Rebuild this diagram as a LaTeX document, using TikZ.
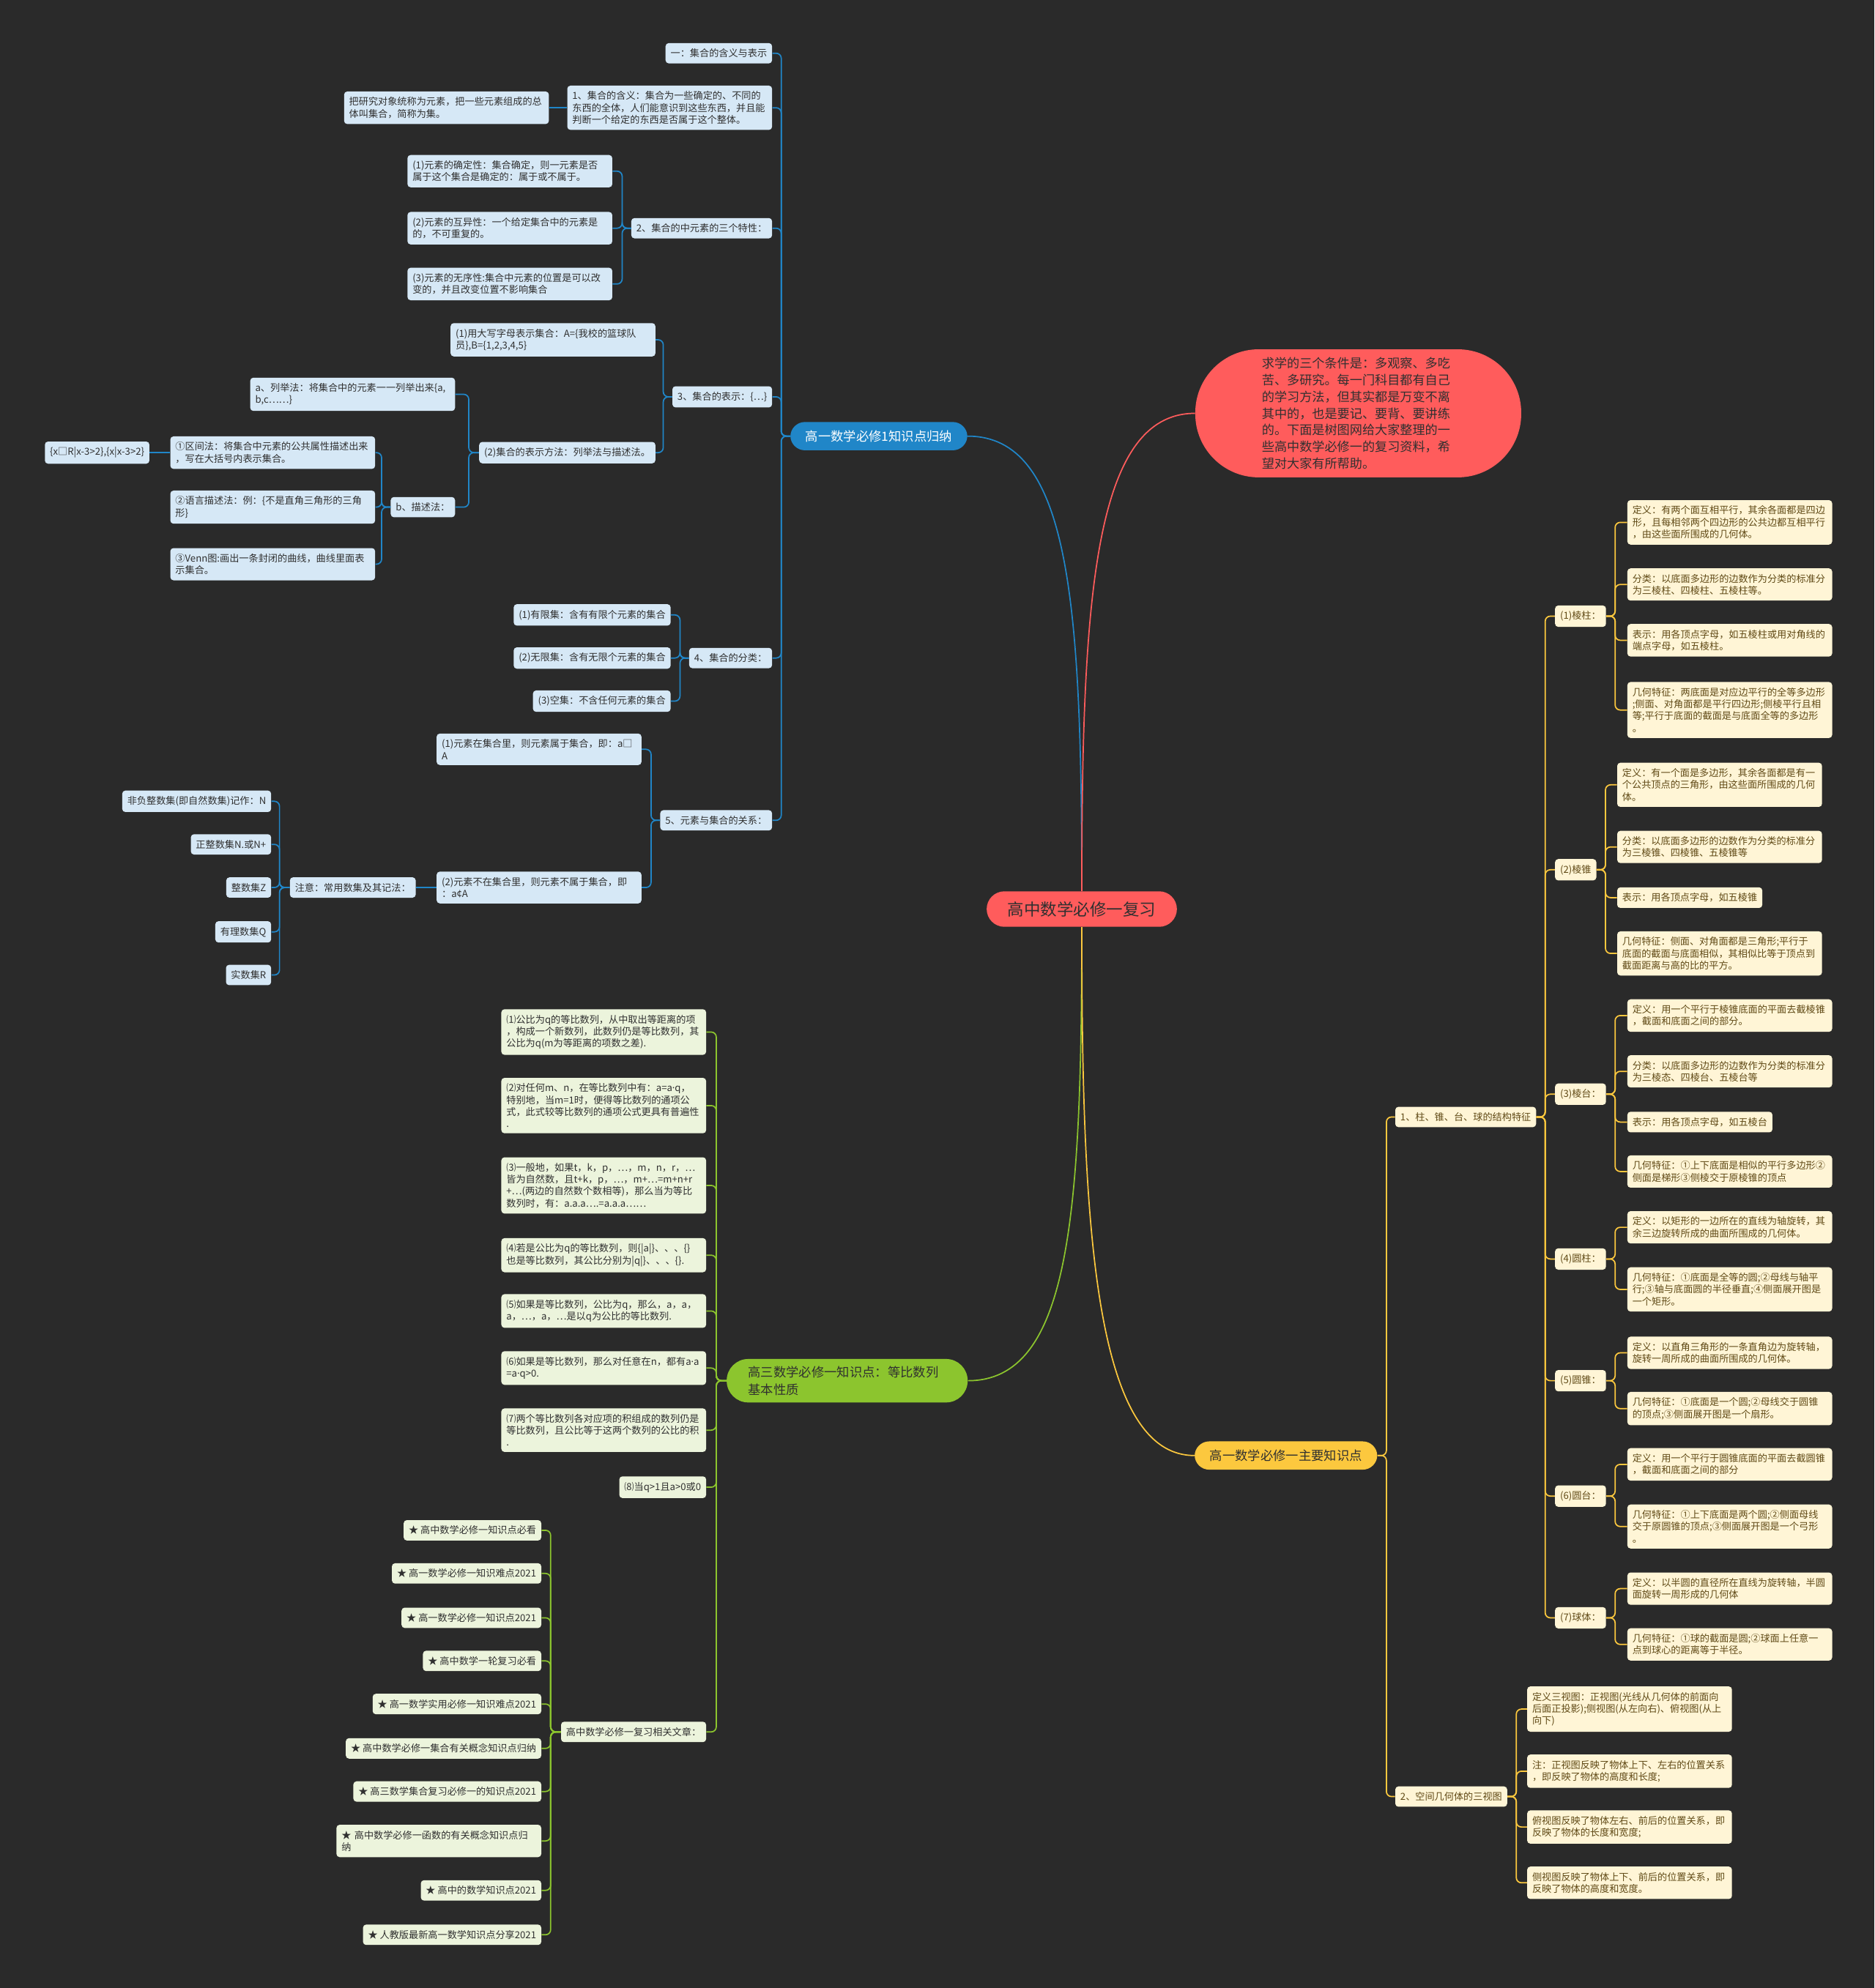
\documentclass[tikz,border=0pt]{standalone}
\usepackage{fontspec}
\setmainfont{Noto Sans CJK SC}
\newfontfamily\latinfont{Noto Sans}
\newcommand\cdotchar{{\latinfont ·}}
\usetikzlibrary{positioning}
\definecolor{bgDark}{RGB}{42,42,42}
\definecolor{mapRed}{RGB}{255,92,92}
\definecolor{mapBlue}{RGB}{32,134,200}
\definecolor{mapGreen}{RGB}{140,197,46}
\definecolor{mapGold}{RGB}{252,200,62}
\definecolor{blueLeaf}{RGB}{214,232,246}
\definecolor{greenLeaf}{RGB}{236,244,220}
\definecolor{goldLeaf}{RGB}{255,245,214}
\definecolor{goldText}{RGB}{96,74,22}
\definecolor{inkGray}{RGB}{48,48,48}
\tikzset{
  leaf/.style={rounded corners=2.5pt, align=left, inner xsep=4pt, inner ysep=4.5pt,
               font=\fontsize{7.6}{9.4}\selectfont, text=inkGray},
  para/.style={text width=153.5pt},
  bleaf/.style={leaf, fill=blueLeaf},
  gleaf/.style={leaf, fill=greenLeaf},
  yleaf/.style={leaf, fill=goldLeaf, text=goldText},
  branch/.style={rounded corners=11.5pt, inner xsep=12pt, inner ysep=6.5pt,
                 font=\fontsize{10}{14}\selectfont, text=inkGray},
  rootnode/.style={fill=mapRed, rounded corners=14pt, minimum width=150pt, minimum height=28pt,
                   font=\fontsize{13}{15}\selectfont, text=inkGray},
  bubble/.style={fill=mapRed, rounded corners=50pt, minimum width=257pt, minimum height=101pt,
                 text width=152pt, align=left, font=\fontsize{9.9}{13.1}\selectfont, text=inkGray},
  blink/.style={draw=mapBlue, line width=1pt, rounded corners=4pt},
  glink/.style={draw=mapGreen, line width=1pt, rounded corners=4pt},
  ylink/.style={draw=mapGold, line width=1pt, rounded corners=4pt},
  rlink/.style={draw=mapRed, line width=1pt}
}

\begin{document}
\begin{tikzpicture}[x=1pt, y=-1pt]
\fill[bgDark] (0,0) rectangle (1478,1568);

% centre and the four main branches
\node[rootnode] (root) at (853,717) {高中数学必修一复习};
\node[branch, fill=mapBlue, text=white] (blue) at (693,344) {高一数学必修1知识点归纳};
\node[bubble] (intro) at (1071,326) {求学的三个条件是：多观察、多吃\\苦、多研究。每一门科目都有自己\\的学习方法，但其实都是万变不离\\其中的，也是要记、要背、要讲练\\的。下面是树图网给大家整理的一\\些高中数学必修一的复习资料，希\\望对大家有所帮助。};
\node[branch, fill=mapGreen, rounded corners=17pt, inner xsep=17pt, inner ysep=5.5pt,
      text width=156pt, align=left] (green) at (668,1089) {高三数学必修一知识点：等比数列\\基本性质};
\node[branch, fill=mapGold] (gold) at (1014,1148) {高一数学必修一主要知识点};
\draw[blink] (root.north) .. controls +(0,-230) and +(80,0) .. (blue.east);
\draw[rlink] (root.north) .. controls +(0,-230) and +(-80,0) .. (intro.west);
\draw[glink] (root.south) .. controls +(0,230) and +(80,0) .. (green.east);
\draw[ylink] (root.south) .. controls +(0,230) and +(-80,0) .. (gold.west);

% blue branch
\node[bleaf, anchor=east] (b0) at (609,42) {一：集合的含义与表示};
\node[bleaf, para, anchor=east] (b1) at (609,85) {1、集合的含义：集合为一些确定的、不同的\\东西的全体，人们能意识到这些东西，并且能\\判断一个给定的东西是否属于这个整体。};
\node[bleaf, para, anchor=east] (b1a) at (433,85) {把研究对象统称为元素，把一些元素组成的总\\体叫集合，简称为集。};
\node[bleaf, anchor=east] (b2) at (609,180) {2、集合的中元素的三个特性：};
\node[bleaf, para, anchor=east] (b2a) at (483,135) {(1)元素的确定性：集合确定，则一元素是否\\属于这个集合是确定的：属于或不属于。};
\node[bleaf, para, anchor=east] (b2b) at (483,180) {(2)元素的互异性：一个给定集合中的元素是\\的，不可重复的。};
\node[bleaf, para, anchor=east] (b2c) at (483,224) {(3)元素的无序性:集合中元素的位置是可以改\\变的，并且改变位置不影响集合};
\node[bleaf, anchor=east] (b3) at (609,313) {3、集合的表示：\{…\}};
\node[bleaf, para, anchor=east] (b3a) at (517,268) {(1)用大写字母表示集合：A=\{我校的篮球队\\员\},B=\{1,2,3,4,5\}};
\node[bleaf, anchor=east] (b3b) at (517,357) {(2)集合的表示方法：列举法与描述法。};
\node[bleaf, para, anchor=east] (b3b1) at (359,311) {a、列举法：将集合中的元素一一列举出来\{a,\\b,c……\}};
\node[bleaf, anchor=east] (b3b2) at (359,400) {b、描述法：};
\node[bleaf, para, anchor=east] (d1) at (296,357) {①区间法：将集合中元素的公共属性描述出来\\，写在大括号内表示集合。};
\node[bleaf, para, anchor=east] (d2) at (296,400) {②语言描述法：例：\{不是直角三角形的三角\\形\}};
\node[bleaf, para, anchor=east] (d3) at (296,445) {③Venn图:画出一条封闭的曲线，曲线里面表\\示集合。};
\node[bleaf, anchor=east] (d1x) at (118,357) {\{x□R|x-3>2\},\{x|x-3>2\}};
\node[bleaf, anchor=east] (b4) at (609,519) {4、集合的分类：};
\node[bleaf, anchor=east] (b4a) at (529,485) {(1)有限集：含有有限个元素的集合};
\node[bleaf, anchor=east] (b4b) at (529,519) {(2)无限集：含有无限个元素的集合};
\node[bleaf, anchor=east] (b4c) at (529,553) {(3)空集：不含任何元素的集合};
\node[bleaf, anchor=east] (b5) at (609,647) {5、元素与集合的关系：};
\node[bleaf, para, anchor=east] (b5a) at (506,591) {(1)元素在集合里，则元素属于集合，即：a□\\A};
\node[bleaf, para, anchor=east] (b5b) at (506,700) {(2)元素不在集合里，则元素不属于集合，即\\：a¢A};
\node[bleaf, anchor=east] (note) at (328,700) {注意：常用数集及其记法：};
\foreach \y/\n/\txt in {632/nN/{非负整数集(即自然数集)记作：N}, 666/nP/{正整数集N.或N+},
                        700/nZ/{整数集Z}, 735/nQ/{有理数集Q}, 769/nR/{实数集R}}
  \node[bleaf, anchor=east] (\n) at (214,\y) {\txt};

\foreach \c in {b0,b1,b2,b3,b4,b5} \draw[blink] (blue.west) -- ++(-7,0) |- (\c.east);
\draw[blink] (b1.west) -- (b1a.east);
\foreach \c in {b2a,b2b,b2c} \draw[blink] (b2.west) -- ++(-7,0) |- (\c.east);
\foreach \c in {b3a,b3b} \draw[blink] (b3.west) -- ++(-7,0) |- (\c.east);
\foreach \c in {b3b1,b3b2} \draw[blink] (b3b.west) -- ++(-8,0) |- (\c.east);
\foreach \c in {d1,d2,d3} \draw[blink] (b3b2.west) -- ++(-7,0) |- (\c.east);
\draw[blink] (d1.west) -- (d1x.east);
\foreach \c in {b4a,b4b,b4c} \draw[blink] (b4.west) -- ++(-7,0) |- (\c.east);
\foreach \c in {b5a,b5b} \draw[blink] (b5.west) -- ++(-7,0) |- (\c.east);
\draw[blink] (b5b.west) -- (note.east);
\foreach \c in {nN,nP,nZ,nQ,nR} \draw[blink] (note.west) -- ++(-8,0) |- (\c.east);

% green branch
\node[gleaf, para, anchor=east] (g1) at (557,814) {⑴公比为q的等比数列，从中取出等距离的项\\，构成一个新数列，此数列仍是等比数列，其\\公比为q(m为等距离的项数之差).};
\node[gleaf, para, anchor=east] (g2) at (557,872) {⑵对任何m、n，在等比数列中有：a=a\cdotchar q，\\特别地，当m=1时，便得等比数列的通项公\\式，此式较等比数列的通项公式更具有普遍性\\.};
\node[gleaf, para, anchor=east] (g3) at (557,935) {⑶一般地，如果t，k，p，…，m，n，r，…\\皆为自然数，且t+k，p，…，m+…=m+n+r\\+…(两边的自然数个数相等)，那么当为等比\\数列时，有：a.a.a….=a.a.a……};
\node[gleaf, para, anchor=east] (g4) at (557,990) {⑷若是公比为q的等比数列，则\{|a|\}、、、\{\}\\也是等比数列，其公比分别为|q|\}、、、\{\}.};
\node[gleaf, para, anchor=east] (g5) at (557,1034) {⑸如果是等比数列，公比为q，那么，a，a，\\a，…，a，…是以q为公比的等比数列.};
\node[gleaf, para, anchor=east] (g6) at (557,1079) {⑹如果是等比数列，那么对任意在n，都有a\cdotchar a\\=a\cdotchar q>0.};
\node[gleaf, para, anchor=east] (g7) at (557,1128) {⑺两个等比数列各对应项的积组成的数列仍是\\等比数列，且公比等于这两个数列的公比的积\\.};
\node[gleaf, anchor=east] (g8) at (557,1173) {⑻当q>1且a>0或0};
\node[gleaf, anchor=east] (gart) at (557,1366) {高中数学必修一复习相关文章：};
\foreach \y/\n/\txt in {1207/a1/{★ 高中数学必修一知识点必看}, 1241/a2/{★ 高一数学必修一知识难点2021},
                        1276/a3/{★ 高一数学必修一知识点2021}, 1310/a4/{★ 高中数学一轮复习必看},
                        1344/a5/{★ 高一数学实用必修一知识难点2021}, 1379/a6/{★ 高中数学必修一集合有关概念知识点归纳},
                        1413/a7/{★ 高三数学集合复习必修一的知识点2021},
                        1491/a9/{★ 高中的数学知识点2021}, 1526/a10/{★ 人教版最新高一数学知识点分享2021}}
  \node[gleaf, anchor=east] (\n) at (427,\y) {\txt};
\node[gleaf, para, anchor=east] (a8) at (427,1452) {★ 高中数学必修一函数的有关概念知识点归\\纳};

\foreach \c in {g1,g2,g3,g4,g5,g6,g7,g8,gart} \draw[glink] (green.west) -- ++(-8,0) |- (\c.east);
\foreach \c in {a1,a2,a3,a4,a5,a6,a7,a8,a9,a10} \draw[glink] (gart.west) -- ++(-8,0) |- (\c.east);

% gold branch
\node[yleaf, anchor=west] (y1) at (1100,881) {1、柱、锥、台、球的结构特征};
\node[yleaf, anchor=west] (y2) at (1100,1417) {2、空间几何体的三视图};
\node[yleaf, anchor=west] (p1) at (1226,486) {(1)棱柱：};
\node[yleaf, anchor=west] (p2) at (1226,686) {(2)棱锥};
\node[yleaf, anchor=west] (p3) at (1226,863) {(3)棱台：};
\node[yleaf, anchor=west] (p4) at (1226,993) {(4)圆柱：};
\node[yleaf, anchor=west] (p5) at (1226,1089) {(5)圆锥：};
\node[yleaf, anchor=west] (p6) at (1226,1180) {(6)圆台：};
\node[yleaf, anchor=west] (p7) at (1226,1276) {(7)球体：};

\node[yleaf, para, anchor=west] (p1a) at (1283,412) {定义：有两个面互相平行，其余各面都是四边\\形，且每相邻两个四边形的公共边都互相平行\\，由这些面所围成的几何体。};
\node[yleaf, para, anchor=west] (p1b) at (1283,461) {分类：以底面多边形的边数作为分类的标准分\\为三棱柱、四棱柱、五棱柱等。};
\node[yleaf, para, anchor=west] (p1c) at (1283,505) {表示：用各顶点字母，如五棱柱或用对角线的\\端点字母，如五棱柱。};
\node[yleaf, para, anchor=west] (p1d) at (1283,560) {几何特征：两底面是对应边平行的全等多边形\\;侧面、对角面都是平行四边形;侧棱平行且相\\等;平行于底面的截面是与底面全等的多边形\\。};
\node[yleaf, para, anchor=west] (p2a) at (1275,619) {定义：有一个面是多边形，其余各面都是有一\\个公共顶点的三角形，由这些面所围成的几何\\体。};
\node[yleaf, para, anchor=west] (p2b) at (1275,668) {分类：以底面多边形的边数作为分类的标准分\\为三棱锥、四棱锥、五棱锥等};
\node[yleaf, anchor=west] (p2c) at (1275,708) {表示：用各顶点字母，如五棱锥};
\node[yleaf, para, anchor=west] (p2d) at (1275,752) {几何特征：侧面、对角面都是三角形;平行于\\底面的截面与底面相似，其相似比等于顶点到\\截面距离与高的比的平方。};
\node[yleaf, para, anchor=west] (p3a) at (1283,801) {定义：用一个平行于棱锥底面的平面去截棱锥\\，截面和底面之间的部分。};
\node[yleaf, para, anchor=west] (p3b) at (1283,845) {分类：以底面多边形的边数作为分类的标准分\\为三棱态、四棱台、五棱台等};
\node[yleaf, anchor=west] (p3c) at (1283,885) {表示：用各顶点字母，如五棱台};
\node[yleaf, para, anchor=west] (p3d) at (1283,924) {几何特征：①上下底面是相似的平行多边形②\\侧面是梯形③侧棱交于原棱锥的顶点};
\node[yleaf, para, anchor=west] (p4a) at (1283,968) {定义：以矩形的一边所在的直线为轴旋转，其\\余三边旋转所成的曲面所围成的几何体。};
\node[yleaf, para, anchor=west] (p4b) at (1283,1017) {几何特征：①底面是全等的圆;②母线与轴平\\行;③轴与底面圆的半径垂直;④侧面展开图是\\一个矩形。};
\node[yleaf, para, anchor=west] (p5a) at (1283,1067) {定义：以直角三角形的一条直角边为旋转轴，\\旋转一周所成的曲面所围成的几何体。};
\node[yleaf, para, anchor=west] (p5b) at (1283,1111) {几何特征：①底面是一个圆;②母线交于圆锥\\的顶点;③侧面展开图是一个扇形。};
\node[yleaf, para, anchor=west] (p6a) at (1283,1155) {定义：用一个平行于圆锥底面的平面去截圆锥\\，截面和底面之间的部分};
\node[yleaf, para, anchor=west] (p6b) at (1283,1204) {几何特征：①上下底面是两个圆;②侧面母线\\交于原圆锥的顶点;③侧面展开图是一个弓形\\。};
\node[yleaf, para, anchor=west] (p7a) at (1283,1253) {定义：以半圆的直径所在直线为旋转轴，半圆\\面旋转一周形成的几何体};
\node[yleaf, para, anchor=west] (p7b) at (1283,1297) {几何特征：①球的截面是圆;②球面上任意一\\点到球心的距离等于半径。};

\node[yleaf, para, anchor=west] (v1) at (1204,1348) {定义三视图：正视图(光线从几何体的前面向\\后面正投影);侧视图(从左向右)、俯视图(从上\\向下)};
\node[yleaf, para, anchor=west] (v2) at (1204,1397) {注：正视图反映了物体上下、左右的位置关系\\，即反映了物体的高度和长度;};
\node[yleaf, para, anchor=west] (v3) at (1204,1441) {俯视图反映了物体左右、前后的位置关系，即\\反映了物体的长度和宽度;};
\node[yleaf, para, anchor=west] (v4) at (1204,1485) {侧视图反映了物体上下、前后的位置关系，即\\反映了物体的高度和宽度。};

\foreach \c in {y1,y2} \draw[ylink] (gold.east) -- ++(7,0) |- (\c.west);
\foreach \c in {p1,p2,p3,p4,p5,p6,p7} \draw[ylink] (y1.east) -- ++(7,0) |- (\c.west);
\foreach \c in {p1a,p1b,p1c,p1d} \draw[ylink] (p1.east) -- ++(7,0) |- (\c.west);
\foreach \c in {p2a,p2b,p2c,p2d} \draw[ylink] (p2.east) -- ++(7,0) |- (\c.west);
\foreach \c in {p3a,p3b,p3c,p3d} \draw[ylink] (p3.east) -- ++(7,0) |- (\c.west);
\foreach \c in {p4a,p4b} \draw[ylink] (p4.east) -- ++(7,0) |- (\c.west);
\foreach \c in {p5a,p5b} \draw[ylink] (p5.east) -- ++(7,0) |- (\c.west);
\foreach \c in {p6a,p6b} \draw[ylink] (p6.east) -- ++(7,0) |- (\c.west);
\foreach \c in {p7a,p7b} \draw[ylink] (p7.east) -- ++(7,0) |- (\c.west);
\foreach \c in {v1,v2,v3,v4} \draw[ylink] (y2.east) -- ++(7,0) |- (\c.west);
\end{tikzpicture}
\end{document}
